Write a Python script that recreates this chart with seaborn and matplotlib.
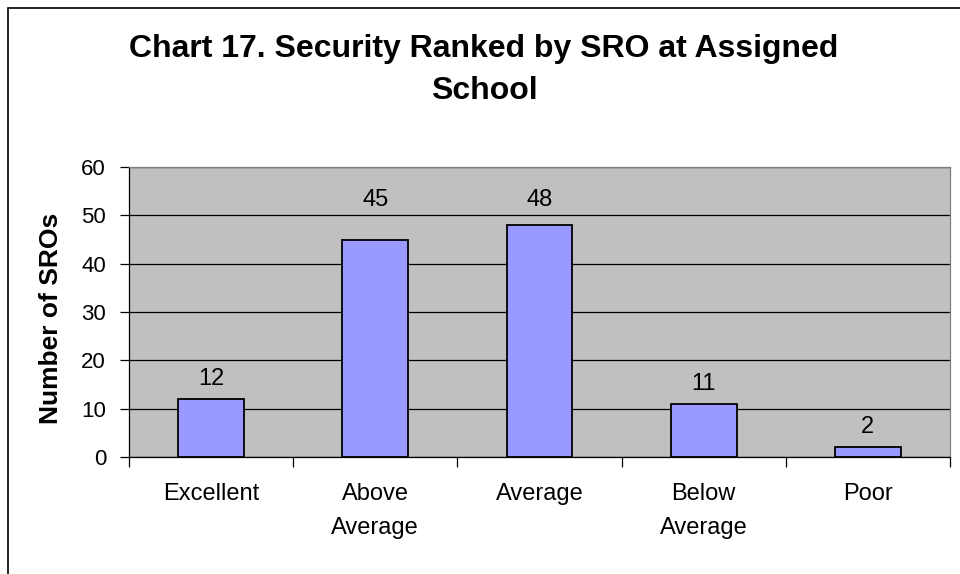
import matplotlib.pyplot as plt
import seaborn as sns
import pandas as pd
from matplotlib.patches import Rectangle

# chart values
categories = ['Excellent', 'Above\nAverage', 'Average', 'Below\nAverage', 'Poor']
counts = [12, 45, 48, 11, 2]

df = pd.DataFrame({'rank': categories, 'count': counts})

sns.set_style('white')
plt.rcParams['font.family'] = ['Liberation Sans', 'DejaVu Sans']
plt.rcParams['text.color'] = 'black'
plt.rcParams['xtick.color'] = 'black'
plt.rcParams['ytick.color'] = 'black'
plt.rcParams['axes.labelcolor'] = 'black'

fig = plt.figure(figsize=(9.6, 5.74), dpi=100)
ax = fig.add_axes([129 / 960, 1 - 457 / 574, 821 / 960, 290 / 574])
ax.set_facecolor('#C0C0C0')

sns.barplot(data=df, x='rank', y='count', color='#9999FF', width=0.4,
            edgecolor='black', linewidth=1.3, saturation=1, ax=ax, zorder=3)

ax.set_ylim(0, 60)
ax.set_xlim(-0.5, 4.5)
ax.set_yticks(range(0, 61, 10))
ax.yaxis.grid(True, color='black', linewidth=0.9, zorder=0)
ax.set_axisbelow(True)

# value labels; tall bars get their label lifted above the 50 gridline
for i, v in enumerate(counts):
    y = v + 4.2 if v < 40 else 53.2
    ax.text(i, y, str(v), ha='center', va='center', fontsize=17)

# category ticks sit between the groups, like the original
ax.set_xticks([i + 0.5 for i in range(-1, 5)], minor=False)
ax.set_xticklabels([])
ax.set_xticks(range(5), minor=True)
ax.set_xticklabels(categories, minor=True, fontsize=17, linespacing=1.7)
ax.tick_params(axis='x', which='major', length=7, width=0.9, direction='out', bottom=True)
ax.tick_params(axis='x', which='minor', length=0, pad=19)
ax.tick_params(axis='y', length=6.5, width=0.9, direction='out', left=True, labelsize=16, pad=10)

for s in ax.spines.values():
    s.set_color('black')
    s.set_linewidth(0.9)
for s in ['top', 'right']:
    ax.spines[s].set_color('#808080')

ax.set_xlabel('')
ax.set_ylabel('')
fig.text(51 / 960, 1 - 318 / 574, 'Number of SROs', rotation=90, ha='center', va='center',
         fontsize=19, fontweight='bold')

fig.text(484 / 960, 1 - 70 / 574, 'Chart 17. Security Ranked by SRO at Assigned\nSchool',
         ha='center', va='center', fontsize=23, fontweight='bold', linespacing=1.5)

# outer chart frame (cut off at right and bottom in the original)
fig.patches.append(Rectangle((8 / 960, -0.05), 1.1, 1 - 8 / 574 + 0.05, transform=fig.transFigure,
                             fill=False, edgecolor='black', linewidth=1.2))

fig.savefig('out.png', dpi=100)
